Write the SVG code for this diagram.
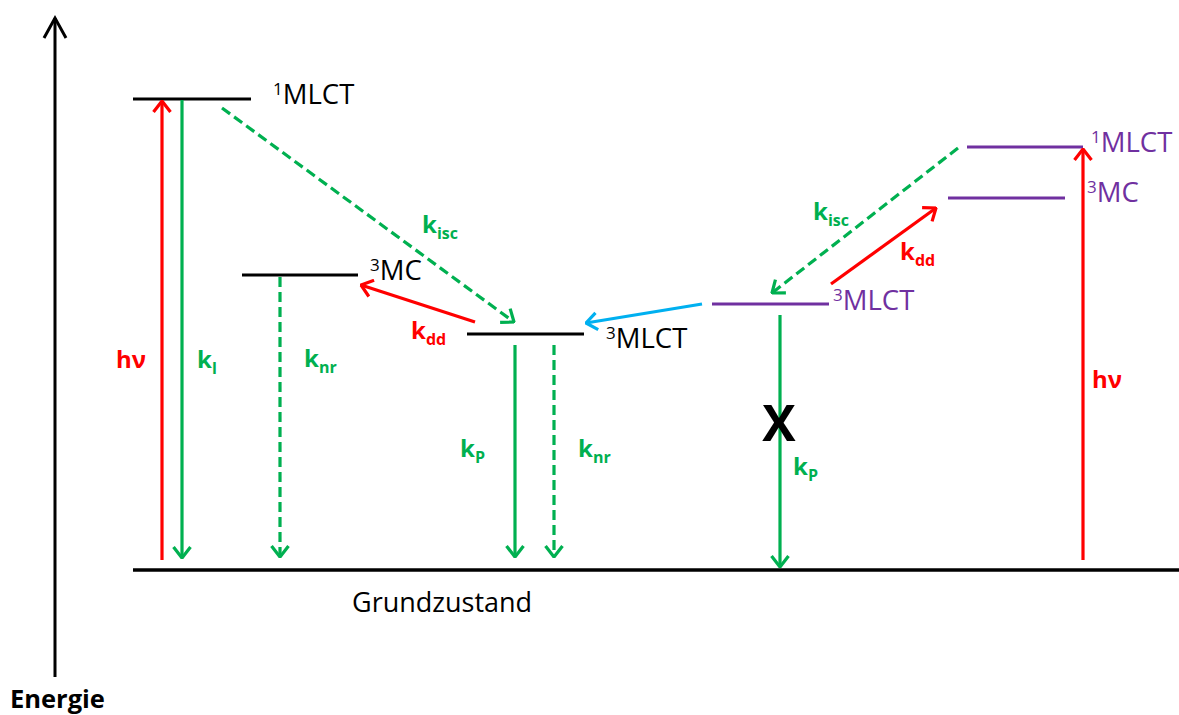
<svg xmlns="http://www.w3.org/2000/svg" width="1179" height="715" viewBox="0 0 1179 715">
<style>
  text { font-family: "Open Sans", "Liberation Sans", sans-serif; }
  .lvl { stroke-width: 3.2; fill: none; }
  .blk { stroke: #000000; }
  .pur { stroke: #7030a0; }
  .st { font-size: 27.5px; }
  .sup { font-size: 17px; }
  .k { font-size: 24px; font-weight: bold; }
  .sub { font-size: 16px; font-weight: bold; }
  .g { fill: #00b050; }
  .r { fill: #ff0000; }
  .p { fill: #7030a0; }
  .a { stroke-width: 3.2; fill: none; }
  .ag { stroke: #00b050; marker-end: url(#mg); }
  .ar { stroke: #ff0000; marker-end: url(#mr); }
  .ab { stroke: #00b0f0; marker-end: url(#mb); }
  .dash { stroke-dasharray: 10 5; }
</style>
<defs>
  <marker id="mg" viewBox="0 0 13 20" refX="12" refY="10" markerWidth="13" markerHeight="20" markerUnits="userSpaceOnUse" orient="auto">
    <path d="M1,1.5 L12,10 L1,18.5" fill="none" stroke="#00b050" stroke-width="3.2" stroke-dasharray="none"/>
  </marker>
  <marker id="mr" viewBox="0 0 13 20" refX="12" refY="10" markerWidth="13" markerHeight="20" markerUnits="userSpaceOnUse" orient="auto">
    <path d="M1,1.5 L12,10 L1,18.5" fill="none" stroke="#ff0000" stroke-width="3.2" stroke-dasharray="none"/>
  </marker>
  <marker id="mb" viewBox="0 0 13 20" refX="12" refY="10" markerWidth="13" markerHeight="20" markerUnits="userSpaceOnUse" orient="auto">
    <path d="M1,1.5 L12,10 L1,18.5" fill="none" stroke="#00b0f0" stroke-width="3.2" stroke-dasharray="none"/>
  </marker>
</defs>
<rect width="1179" height="715" fill="#ffffff"/>

<g id="axis">
  <line x1="55" y1="677" x2="55" y2="18" stroke="#000" stroke-width="3"/>
  <path d="M44,38 L55,18 L66,38" fill="none" stroke="#000" stroke-width="3"/>
  <text x="10" y="708" font-size="25.5" font-weight="bold" fill="#000">Energie</text>
</g>

<g id="ground">
  <line x1="133" y1="570" x2="1179" y2="570" stroke="#000" stroke-width="3.5"/>
  <text x="352" y="612" font-size="27" fill="#000">Grundzustand</text>
</g>

<g id="left-1MLCT">
  <line class="lvl blk" x1="133" y1="99" x2="251" y2="99"/>
  <text class="st" x="273" y="104"><tspan class="sup" dy="-9">1</tspan><tspan dy="9">MLCT</tspan></text>
</g>
<g id="left-3MC">
  <line class="lvl blk" x1="242" y1="275" x2="358" y2="275"/>
  <text class="st" x="370" y="280"><tspan class="sup" dy="-9">3</tspan><tspan dy="9">MC</tspan></text>
</g>
<g id="left-3MLCT">
  <line class="lvl blk" x1="467" y1="334" x2="584" y2="334"/>
  <text class="st" x="606" y="348"><tspan class="sup" dy="-9">3</tspan><tspan dy="9">MLCT</tspan></text>
</g>
<g id="right-3MLCT">
  <line class="lvl pur" x1="712" y1="304" x2="829" y2="304"/>
  <text class="st p" x="833" y="310"><tspan class="sup" dy="-9">3</tspan><tspan dy="9">MLCT</tspan></text>
</g>
<g id="right-3MC">
  <line class="lvl pur" x1="948" y1="198" x2="1065" y2="198"/>
  <text class="st p" x="1087" y="202"><tspan class="sup" dy="-9">3</tspan><tspan dy="9">MC</tspan></text>
</g>
<g id="right-1MLCT">
  <line class="lvl pur" x1="967" y1="147" x2="1083" y2="147"/>
  <text class="st p" x="1091" y="152"><tspan class="sup" dy="-9">1</tspan><tspan dy="9">MLCT</tspan></text>
</g>

<g id="connectors">
  <line class="a ar" x1="162" y1="560" x2="162" y2="101"/>
  <line class="a ag" x1="182" y1="100" x2="182" y2="558"/>
  <line class="a ag dash" x1="280" y1="277" x2="280" y2="557"/>
  <line class="a ag dash" x1="222" y1="108" x2="514" y2="322"/>
  <line class="a ar" x1="475" y1="322" x2="361" y2="285"/>
  <line class="a ag" x1="515" y1="345" x2="515" y2="557"/>
  <line class="a ag dash" x1="554" y1="345" x2="554" y2="557"/>
  <line class="a ab" x1="702" y1="304" x2="586" y2="323"/>
  <line class="a ag dash" x1="958" y1="148" x2="772" y2="293"/>
  <line class="a ar" x1="831" y1="284" x2="936" y2="208"/>
  <line class="a ag" x1="780" y1="315" x2="780" y2="567"/>
  <line class="a ar" x1="1083" y1="560" x2="1083" y2="149"/>
</g>

<g id="labels">
  <text class="k r" x="116" y="368" font-size="26">hν</text>
  <text class="k g" x="197" y="368">k<tspan class="sub" dy="6">l</tspan></text>
  <text class="k g" x="304" y="367">k<tspan class="sub" dy="6">nr</tspan></text>
  <text class="k g" x="422" y="233">k<tspan class="sub" dy="6">isc</tspan></text>
  <text class="k r" x="411" y="339">k<tspan class="sub" dy="6">dd</tspan></text>
  <text class="k g" x="460" y="457">k<tspan class="sub" dy="6">P</tspan></text>
  <text class="k g" x="578" y="457">k<tspan class="sub" dy="6">nr</tspan></text>
  <text class="k g" x="813" y="220">k<tspan class="sub" dy="6">isc</tspan></text>
  <text class="k r" x="900" y="260">k<tspan class="sub" dy="6">dd</tspan></text>
  <text class="k g" x="793" y="475">k<tspan class="sub" dy="6">P</tspan></text>
  <text class="k r" x="1092" y="388" font-size="26">hν</text>
  <text x="779" y="441" font-size="50" font-weight="bold" text-anchor="middle" fill="#000">X</text>
</g>
</svg>
